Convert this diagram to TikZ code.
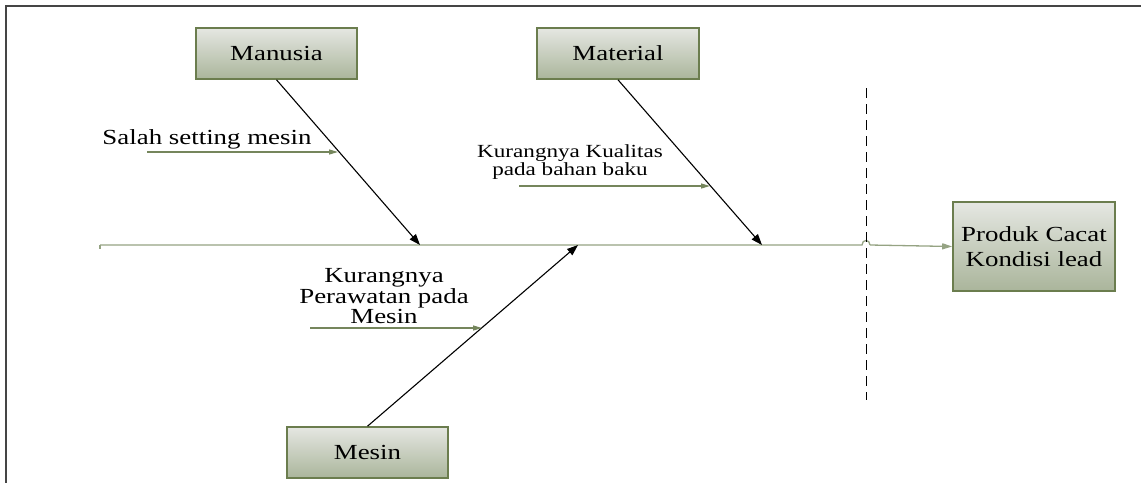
\documentclass[tikz,border=0pt]{standalone}
\usepackage{fontspec}
\setmainfont{Liberation Serif}
\newfontfamily\lblfont[FakeStretch=1.25]{Liberation Serif}
\usetikzlibrary{arrows.meta}
\definecolor{boxtop}{HTML}{E5E7E2}
\definecolor{boxbot}{HTML}{AAB59B}
\definecolor{boxedge}{HTML}{6B7D4E}
\definecolor{subgreen}{HTML}{75865C}
\definecolor{spinecol}{HTML}{95A383}
\definecolor{framecol}{HTML}{454545}
\begin{document}
\begin{tikzpicture}[x=1pt,y=-1pt,
  box/.style={draw=boxedge, line width=1.6pt, top color=boxtop, bottom color=boxbot,
    inner sep=0pt, align=center, font=\lblfont\fontsize{21.5}{25}\selectfont},
  lbl/.style={inner sep=0pt, align=center, font=\lblfont\fontsize{21.5}{20.5}\selectfont},
  lblsmall/.style={inner sep=0pt, align=center, font=\lblfont\fontsize{18.5}{18}\selectfont},
  bone/.style={draw=black, line width=1.1pt, -{Triangle[length=11pt,width=8pt]}},
  subarrow/.style={draw=subgreen, line width=1.2pt, -{Triangle[length=9pt,width=5pt]}},
  spine/.style={draw=spinecol, line width=1.3pt},
  divider/.style={draw=black, line width=1pt, dash pattern=on 10pt off 6pt}]
\useasboundingbox (0,0) rectangle (1141,483);
% frame
\draw[framecol, line width=1.5pt] (1141,6) -- (6,6) -- (6,483);

% boxes
\node[box, minimum width=161pt, minimum height=51pt] (man) at (276.5,53.5) {Manusia};
\node[box, minimum width=162pt, minimum height=51pt] (mat) at (618,53.5) {Material};
\node[box, minimum width=161pt, minimum height=51pt] (mes) at (367.5,452.5) {Mesin};
\node[box, minimum width=162pt, minimum height=89pt] (prod) at (1034,246.5) {Produk Cacat\\Kondisi lead};

% spine
\coordinate (tail) at (100,245);
\coordinate (hopL) at (862,245);
\coordinate (hopR) at (870,245);
\draw[spine] (tail) -- ++(0,4);
\draw[spine] (tail) -- (hopL) .. controls (862,239) and (870,239) .. (hopR);
\draw[spine, -{Triangle[length=10pt,width=6pt]}] (hopR) -- (prod.west);

% divider
\coordinate (dtop) at (866,88);
\coordinate (dbot) at (866,400);
\draw[divider] (dtop) -- (dbot);

% bones
\coordinate (t1) at (420,245);
\coordinate (t2) at (762,245);
\coordinate (t3) at (578,245);
\draw[bone] (man.south) -- (t1);
\draw[bone] (mat.south) -- (t2);
\draw[bone] (mes.north) -- (t3);

% causes
\coordinate (c1s) at (147,152); \coordinate (c1e) at (338,152);
\coordinate (c2s) at (519,186); \coordinate (c2e) at (710,186);
\coordinate (c3s) at (310,328); \coordinate (c3e) at (482,328);
\draw[subarrow] (c1s) -- (c1e);
\draw[subarrow] (c2s) -- (c2e);
\draw[subarrow] (c3s) -- (c3e);

\node[lbl, anchor=base] (l1) at (207,144) {Salah setting mesin};
\node[lblsmall] (l2) at (570,162) {Kurangnya Kualitas\\pada bahan baku};
\node[lbl] (l3) at (384,296.5) {Kurangnya\\Perawatan pada\\Mesin};
\end{tikzpicture}
\end{document}
